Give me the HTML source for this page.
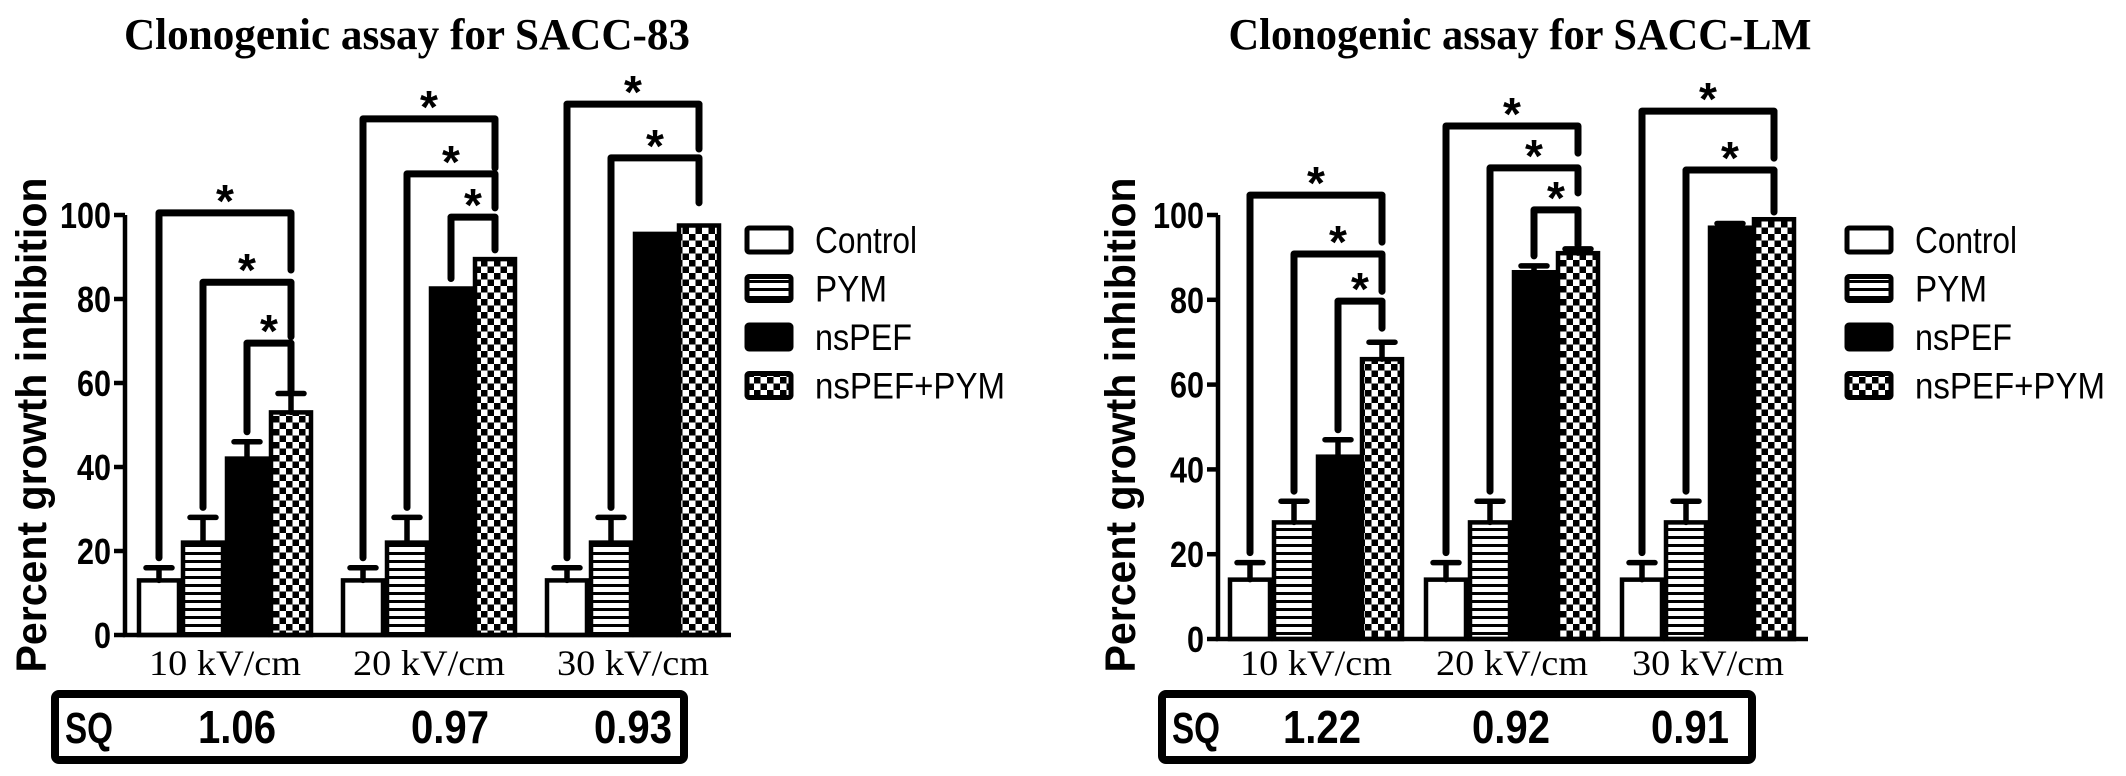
<!DOCTYPE html>
<html><head><meta charset="utf-8"><style>
html,body{margin:0;padding:0;background:#fff}
svg{display:block}
</style></head><body>
<svg id="chart" width="2126" height="776" viewBox="0 0 2126 776" xmlns="http://www.w3.org/2000/svg">
<defs>
<pattern id="stripes" patternUnits="userSpaceOnUse" width="8" height="8"><rect width="8" height="8" fill="#fff"/><rect y="0" width="8" height="3" fill="#000"/></pattern>
<pattern id="checks" patternUnits="userSpaceOnUse" width="13" height="13"><rect width="13" height="13" fill="#fff"/><rect width="6.5" height="6.5" fill="#000"/><rect x="6.5" y="6.5" width="6.5" height="6.5" fill="#000"/></pattern>
</defs>
</svg>
<script>
// ---- data ----
const categories = ["10 kV/cm", "20 kV/cm", "30 kV/cm"];
const seriesNames = ["Control", "PYM", "nsPEF", "nsPEF+PYM"];
const yTicks = [0, 20, 40, 60, 80, 100];
// Panel A (SACC-83)
const aControl = [13, 13, 13];
const aPYM = [22, 22, 22];
const aNsPEF = [42, 82.5, 95.5];
const aCombo = [53, 89.5, 97.5];
const aControlErr = [16, 16, 16];
const aPYMErr = [28, 28, 28];
const aNsPEFErr = [46, 82.5, 95.5];
const aComboErr = [57.5, 90, 98];
const aSQ = ["1.06", "0.97", "0.93"];
// brackets: [group, fromBar, toBar, topValue, rightEndValue]
const aBrackets = [[0,0,3,100.5,86.9],[0,1,3,84,71],[0,2,3,69.5,58],[1,0,3,122.9,111.2],[1,1,3,109.8,101.7],[1,2,3,99.5,91.7],[2,0,3,126.4,115.7],[2,1,3,113.6,102.9]];
// Panel B (SACC-LM)
const bControl = [14, 14, 14];
const bPYM = [27.5, 27.5, 27.5];
const bNsPEF = [43, 86.5, 97];
const bCombo = [66, 91, 99];
const bControlErr = [18, 18, 18];
const bPYMErr = [32.5, 32.5, 32.5];
const bNsPEFErr = [47, 88, 98];
const bComboErr = [70, 92, 99.5];
const bSQ = ["1.22", "0.92", "0.91"];
const bBrackets = [[0,0,3,104.7,93.6],[0,1,3,90.8,82],[0,2,3,79.7,73.3],[1,0,3,121,114.6],[1,1,3,111.1,105.2],[1,2,3,101.2,92.9],[2,0,3,124.5,113.4],[2,1,3,110.6,100.7]];

const svg = document.getElementById('chart');
const NS = 'http://www.w3.org/2000/svg';
function mk(tag, attrs, parent, text){
  const e = document.createElementNS(NS, tag);
  for (const k in attrs) e.setAttribute(k, attrs[k]);
  if (text !== undefined) e.textContent = text;
  (parent || svg).appendChild(e);
  return e;
}
const fills = ['#fff', 'url(#stripes)', '#000', 'url(#checks)'];

function panel(cfg){
  const g = mk('g', {});
  
  
  const y = v => cfg.y0 - v * cfg.ppu;
  const barX = (gi, bi) => cfg.gx0 + gi * cfg.gstep + bi * cfg.bw;
  const barC = (gi, bi) => barX(gi, bi) + cfg.bw / 2;
  // title
  const t = mk('text', {x: cfg.titleX, y: 49, 'text-anchor': 'middle', 'font-family': '"Liberation Serif", serif', 'font-weight': 'bold', 'font-size': 44, textLength: cfg.titleW, lengthAdjust: 'spacingAndGlyphs'}, g, cfg.title);
  
  
  // y title
  const yt = mk('text', {x: 0, y: 0, transform: `translate(${cfg.ytX},425) rotate(-90)`, 'text-anchor': 'middle', 'font-family': '"Liberation Sans", sans-serif', 'font-weight': 'bold', 'font-size': 43, textLength: 495, lengthAdjust: 'spacingAndGlyphs'}, g, 'Percent growth inhibition');
  
  
  // bars
  const vals = [cfg.control, cfg.pym, cfg.nspef, cfg.combo];
  const errs = [cfg.controlErr, cfg.pymErr, cfg.nspefErr, cfg.comboErr];
  for (let gi = 0; gi < categories.length; gi++){
    for (let bi = 0; bi < 4; bi++){
      const v = vals[bi][gi], ev = errs[bi][gi];
      const x = barX(gi, bi);
      const r = mk('rect', {x: x + 2, y: y(v), width: cfg.bw - 4, height: cfg.y0 - y(v), fill: fills[bi], stroke: '#000', 'stroke-width': 4.5}, g);
      
      
      if (ev > v + 0.6){
        const eg = mk('path', {d: `M${barC(gi,bi)},${y(v)} V${y(ev)} M${barC(gi,bi)-13},${y(ev)} H${barC(gi,bi)+13}`, stroke: '#000', 'stroke-width': 5.5, 'stroke-linecap': 'round', fill: 'none'}, g);
        
        
      }
    }
    const xl = mk('text', {x: (barX(gi,0) + barX(gi,4)) / 2, y: 675, 'text-anchor': 'middle', 'font-family': '"Liberation Serif", serif', 'font-size': 36, textLength: 152, lengthAdjust: 'spacingAndGlyphs'}, g, categories[gi]);
    
    
  }
  // axes
  const ax = mk('path', {d: `M${cfg.axX},${y(100)} V${cfg.y0} H${cfg.axEnd}`, stroke: '#000', 'stroke-width': 4.5, fill: 'none'}, g);
  
  
  yTicks.forEach(tv => {
    const tk = mk('line', {x1: cfg.axX - 11, x2: cfg.axX, y1: y(tv), y2: y(tv), stroke: '#000', 'stroke-width': 4.5}, g);
    
    
    const tl = mk('text', {x: cfg.axX - 14, y: y(tv) + 13, 'text-anchor': 'end', 'font-family': '"Liberation Sans", sans-serif', 'font-weight': 'bold', 'font-size': 36, textLength: String(tv).length * 17, lengthAdjust: 'spacingAndGlyphs'}, g, String(tv));
    
    
  });
  // brackets
  cfg.brackets.forEach(b => {
    const [gi, fb, tb, top, rEnd] = b;
    const lx = barC(gi, fb), rx = barC(gi, tb);
    const lb = y(errs[fb][gi]) - 10;
    const p = mk('path', {d: `M${lx},${lb} V${y(top)} H${rx} V${y(rEnd)}`, stroke: '#000', 'stroke-width': 7, 'stroke-linecap': 'round', 'stroke-linejoin': 'round', fill: 'none'}, g);
    
    
    const s = mk('text', {x: (lx + rx) / 2, y: y(top) + 4, 'text-anchor': 'middle', 'font-family': '"Liberation Sans", sans-serif', 'font-weight': 'bold', 'font-size': 46}, g, '*');
    
    
  });
  // legend
  const lens = [102, 72, 97, 190];
  seriesNames.forEach((n, i) => {
    const cy = 240 + i * 48.5;
    const lg = mk('g', {}, g);
    
    
    mk('rect', {x: cfg.legX + 2, y: cy - 12, width: 44, height: 24, rx: 2, fill: fills[i], stroke: '#000', 'stroke-width': 5}, lg);
    mk('text', {x: cfg.legX + 70, y: cy + 13, 'font-family': '"Liberation Sans", sans-serif', 'font-size': 37, textLength: lens[i], lengthAdjust: 'spacingAndGlyphs'}, lg, n);
  });
  // SQ box
  const sb = mk('g', {}, g);
  
  
  mk('rect', {x: cfg.sqX0 + 4, y: 694, width: cfg.sqX1 - cfg.sqX0 - 8, height: 66, rx: 4, fill: 'none', stroke: '#000', 'stroke-width': 8}, sb);
  mk('text', {x: cfg.sqX0 + 14, y: 743, 'font-family': '"Liberation Sans", sans-serif', 'font-weight': 'bold', 'font-size': 44, textLength: 48, lengthAdjust: 'spacingAndGlyphs'}, sb, 'SQ');
  cfg.sq.forEach((v, i) => {
    mk('text', {x: cfg.sqXs[i], y: 743, 'text-anchor': 'middle', 'font-family': '"Liberation Sans", sans-serif', 'font-weight': 'bold', 'font-size': 46, textLength: 78, lengthAdjust: 'spacingAndGlyphs'}, sb, v);
  });
}

panel({name: 'panel-sacc-83', title: 'Clonogenic assay for SACC-83', titleX: 407, titleW: 566, ytX: 46,
  y0: 635, ppu: 4.2, axX: 125, axEnd: 731, gx0: 137, gstep: 204, bw: 44,
  control: aControl, pym: aPYM, nspef: aNsPEF, combo: aCombo,
  controlErr: aControlErr, pymErr: aPYMErr, nspefErr: aNsPEFErr, comboErr: aComboErr,
  brackets: aBrackets, legX: 745, sq: aSQ, sqX0: 51, sqX1: 688, sqXs: [237, 450, 633]});
panel({name: 'panel-sacc-lm', title: 'Clonogenic assay for SACC-LM', titleX: 1520, titleW: 583, ytX: 1135,
  y0: 639, ppu: 4.24, axX: 1218, axEnd: 1808, gx0: 1228, gstep: 196, bw: 44,
  control: bControl, pym: bPYM, nspef: bNsPEF, combo: bCombo,
  controlErr: bControlErr, pymErr: bPYMErr, nspefErr: bNsPEFErr, comboErr: bComboErr,
  brackets: bBrackets, legX: 1845, sq: bSQ, sqX0: 1158, sqX1: 1756, sqXs: [1322, 1511, 1690]});
</script>
</body></html>
